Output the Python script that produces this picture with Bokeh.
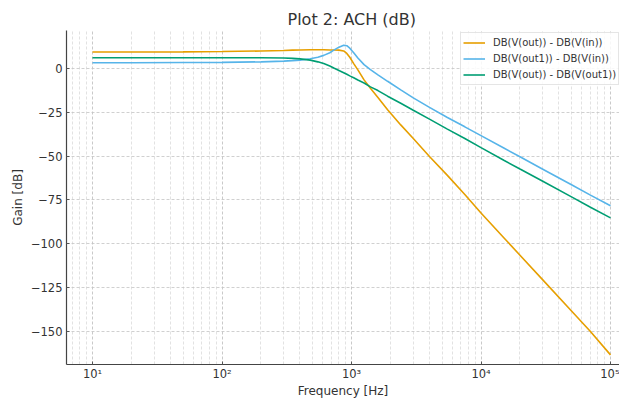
from bokeh.plotting import figure
from bokeh.models import Range1d, FixedTicker, CustomJSTickFormatter, Legend, LegendItem
from bokeh.embed import file_html
from bokeh.resources import INLINE

# ---- data ----
freq = [10, 20, 50, 100, 200, 300, 350, 400, 480, 550, 610, 680, 730, 800, 870, 920, 970,
        1040, 1120, 1250, 1400, 1600, 1900, 2400, 3000, 4000, 5500, 7500, 10000, 15000,
        20000, 30000, 50000, 70000, 100000]

out_in = [9.4, 9.4, 9.5, 9.7, 10.0, 10.3, 10.5, 10.6, 10.7, 10.7, 10.7, 10.6, 10.6, 10.5, 10.0,
          8.6, 6.4, 2.8, -0.8, -6.5, -11.3, -16.5, -23.5, -32.2, -40.0, -50.2, -61.0, -71.9,
          -82.5, -96.6, -106.6, -120.7, -138.5, -150.2, -163.5]

out1_in = [3.3, 3.3, 3.4, 3.5, 3.8, 4.2, 4.5, 4.8, 5.6, 6.4, 7.5, 9.0, 10.5, 12.2, 13.3,
           13.0, 11.6, 9.0, 6.0, 2.2, -0.6, -3.6, -7.3, -12.2, -16.8, -22.2, -28.0, -33.3,
           -38.3, -45.4, -50.4, -57.5, -66.4, -72.3, -78.4]

out_out1 = [6.1, 6.1, 6.1, 6.1, 6.1, 6.0, 5.8, 5.5, 4.8, 3.8, 2.8, 1.4, 0.3, -1.1, -2.4,
            -3.3, -4.2, -5.3, -6.6, -8.3, -10.5, -12.6, -15.8, -19.8, -23.8, -28.9, -34.6,
            -40.0, -45.2, -52.4, -57.4, -64.4, -73.3, -79.2, -85.3]

series_labels = ["DB(V(out)) - DB(V(in))", "DB(V(out1)) - DB(V(in))", "DB(V(out)) - DB(V(out1))"]
series_colors = ["#E69F00", "#56B4E9", "#009E73"]

x_major = [10, 100, 1000, 10000, 100000]
x_minor = [m * 10 ** k for k in range(0, 6) for m in range(2, 10)]
y_major = [0, -25, -50, -75, -100, -125, -150]

FONT = "DejaVu Sans"
TXT = "#333333"

p = figure(width=619, height=400, x_axis_type="log", output_backend="svg",
           toolbar_location=None,
           x_range=Range1d(10 ** 0.7992, 10 ** 5.0695), y_range=Range1d(-169.0, 21.7),
           min_border_left=66, min_border_right=0, min_border_top=30, min_border_bottom=30)

p.outline_line_color = None
p.background_fill_color = "white"

# title
p.title.text = "Plot 2: ACH (dB)"
p.title.text_font = FONT
p.title.text_font_size = "16px"
p.title.text_font_style = "normal"
p.title.text_color = TXT
p.title.align = "left"
p.title.offset = 221
p.title.standoff = 3

# lines
renderers = []
for ys, col in zip([out_in, out1_in, out_out1], series_colors):
    r = p.line(freq, ys, line_color=col, line_width=1.6)
    renderers.append(r)

# axes
xt = FixedTicker(ticks=x_major, minor_ticks=x_minor)
yt = FixedTicker(ticks=y_major, minor_ticks=[])
p.xaxis.ticker = xt
p.xgrid.ticker = xt
p.yaxis.ticker = yt
p.ygrid.ticker = yt

p.xaxis.formatter = CustomJSTickFormatter(code="""
const sup = {'0':'\u2070','1':'\u00b9','2':'\u00b2','3':'\u00b3','4':'\u2074','5':'\u2075','6':'\u2076','7':'\u2077','8':'\u2078','9':'\u2079','-':'\u207b'};
const e = Math.round(Math.log10(tick));
return '10' + String(e).split('').map(c => sup[c]).join('');
""")
p.yaxis.formatter = CustomJSTickFormatter(code="""
return tick < 0 ? '\u2212' + Math.abs(tick) : String(tick);
""")

for ax in (p.xaxis, p.yaxis):
    ax.axis_line_color = "#444444"
    ax.axis_line_width = 1.2
    ax.major_tick_line_color = "#555555"
    ax.major_tick_in = 3
    ax.major_tick_out = 0
    ax.minor_tick_in = 0
    ax.minor_tick_out = 0
    ax.major_label_text_font = FONT
    ax.major_label_text_font_size = "11.5px"
    ax.major_label_text_color = TXT
    ax.axis_label_text_font = FONT
    ax.axis_label_text_font_size = "12px"
    ax.axis_label_text_font_style = "normal"
    ax.axis_label_text_color = TXT

p.xaxis.axis_label = "Frequency [Hz]"
p.yaxis.axis_label = "Gain [dB]"
p.xaxis.major_label_standoff = 2
p.xaxis.axis_label_standoff = 0
p.yaxis.major_label_standoff = 4
p.yaxis.axis_label_standoff = 3

# grid
p.xgrid.grid_line_color = "#bbbbbb"
p.xgrid.grid_line_dash = "3 2"
p.xgrid.grid_line_width = 0.8
p.xgrid.minor_grid_line_color = "#d6d6d6"
p.xgrid.minor_grid_line_dash = "3 2"
p.xgrid.minor_grid_line_width = 0.7
p.ygrid.grid_line_color = "#c4c4c4"
p.ygrid.grid_line_dash = "3 2"
p.ygrid.grid_line_width = 0.8

# legend
items = [LegendItem(label=lab, renderers=[r]) for lab, r in zip(series_labels, renderers)]
legend = Legend(items=items, location=(394, 279))
legend.label_text_font = FONT
legend.label_text_font_size = "10px"
legend.label_text_color = TXT
legend.glyph_width = 22
legend.glyph_height = 15
legend.label_height = 15
legend.label_standoff = 8
legend.spacing = 1
legend.padding = 2
legend.margin = 0
legend.border_line_color = "#cccccc"
legend.border_line_width = 1
legend.background_fill_alpha = 0.85
p.add_layout(legend)

open("out.html", "w").write(file_html(p, INLINE))
